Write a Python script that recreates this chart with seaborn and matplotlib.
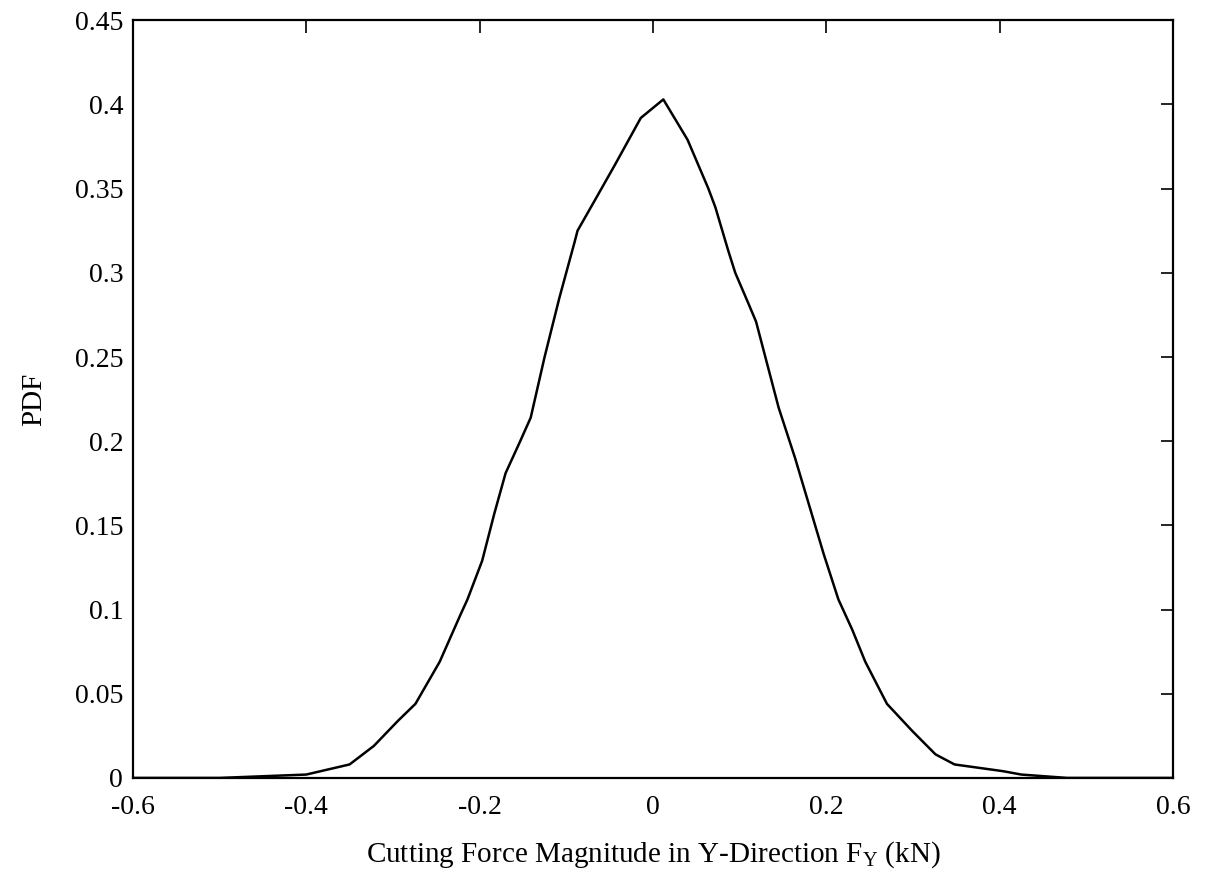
import matplotlib
matplotlib.use("Agg")
import matplotlib.pyplot as plt
import seaborn as sns
import pandas as pd

force_kN = [-0.6, -0.5, -0.45, -0.4, -0.35, -0.322, -0.294, -0.274, -0.246, -0.222,
            -0.214, -0.197, -0.183, -0.17, -0.154, -0.141, -0.125, -0.108, -0.09, -0.087,
            -0.066, -0.044, -0.014, 0.012, 0.04, 0.064, 0.072, 0.087, 0.095, 0.11,
            0.119, 0.145, 0.164, 0.197, 0.214, 0.23, 0.245, 0.27, 0.299, 0.326,
            0.348, 0.404, 0.425, 0.478, 0.6]
pdf_vals = [0.0, 0.0, 0.001, 0.002, 0.008, 0.019, 0.034, 0.044, 0.069, 0.097,
            0.106, 0.129, 0.157, 0.181, 0.199, 0.214, 0.25, 0.285, 0.319, 0.325,
            0.344, 0.364, 0.392, 0.403, 0.379, 0.35, 0.339, 0.313, 0.300, 0.282,
            0.271, 0.220, 0.190, 0.133, 0.106, 0.088, 0.069, 0.044, 0.028, 0.014,
            0.008, 0.004, 0.002, 0.0, 0.0]

x_ticks = [-0.6, -0.4, -0.2, 0.0, 0.2, 0.4, 0.6]
x_tick_labels = ["-0.6", "-0.4", "-0.2", "0", "0.2", "0.4", "0.6"]
y_ticks = [0, 0.05, 0.1, 0.15, 0.2, 0.25, 0.3, 0.35, 0.4, 0.45]
y_tick_labels = ["0", "0.05", "0.1", "0.15", "0.2", "0.25", "0.3", "0.35", "0.4", "0.45"]

sns.set_theme(style="white")
plt.rcParams["font.family"] = ["Liberation Serif", "DejaVu Serif"]
plt.rcParams["mathtext.fontset"] = "custom"
plt.rcParams["mathtext.rm"] = "Liberation Serif"
plt.rcParams["mathtext.it"] = "Liberation Serif:italic"
plt.rcParams["axes.unicode_minus"] = False
plt.rcParams["axes.labelcolor"] = "black"
plt.rcParams["text.color"] = "black"

df = pd.DataFrame({"x": force_kN, "y": pdf_vals})

fig = plt.figure(figsize=(12.08, 8.82), dpi=100)
ax = fig.add_axes([0.110, 0.118, 0.861, 0.859])
sns.lineplot(data=df, x="x", y="y", ax=ax, color="black", linewidth=1.8, sort=False)

ax.set_xlim(-0.6, 0.6)
ax.set_ylim(0, 0.45)
ax.set_xticks(x_ticks)
ax.set_xticklabels(x_tick_labels)
ax.set_yticks(y_ticks)
ax.set_yticklabels(y_tick_labels)
ax.tick_params(direction="in", top=True, right=True, length=9, width=1.2,
               labelsize=20, colors="black")
ax.tick_params(axis="x", pad=12)
ax.tick_params(axis="y", pad=7)
for s in ax.spines.values():
    s.set_color("black")
    s.set_linewidth(1.6)

ax.set_xlabel(r"Cutting Force Magnitude in Y-Direction F$_\mathrm{Y}$ (kN)", fontsize=21,
              labelpad=14, color="black")
ax.set_ylabel("PDF", fontsize=21, labelpad=20, color="black")

fig.savefig("out.png", dpi=100, facecolor="white")
